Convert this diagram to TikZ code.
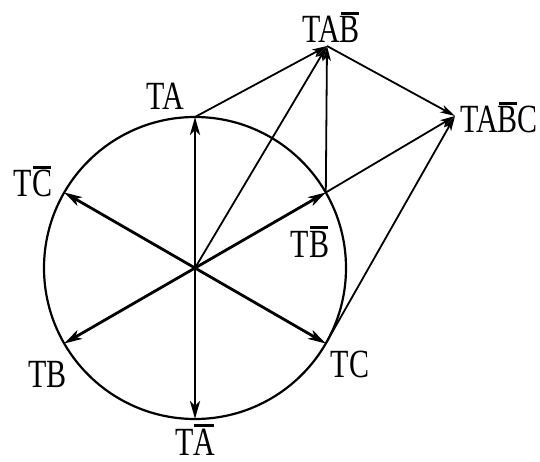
\documentclass[tikz,border=0pt]{standalone}
\usepackage{fontspec}
\setmainfont{Liberation Serif}
\usetikzlibrary{arrows.meta}
\newcommand\ob[1]{\setbox0\hbox{#1}\rlap{\hbox to \wd0{\hss\rule[0.71em]{0.9\wd0}{0.07em}\hss}}\box0}
\newcommand\lbltext[1]{\scalebox{0.75}[1]{#1}}
\begin{document}
\begin{tikzpicture}[x=1pt,y=-1pt,
  lbl/.style={anchor=base,inner sep=0pt,font=\fontsize{40}{40}\selectfont},
  rim/.style={line width=2.2pt},
  vec/.style={line width=2.8pt,-{Stealth[length=18pt,width=10pt,inset=5pt]}},
  thinvec/.style={line width=1.8pt,-{Stealth[length=15pt,width=8pt,inset=4pt]}}]
\useasboundingbox (0,0) rectangle (540,462);
\coordinate (O) at (195,268);
\coordinate (A) at (195,117);
\coordinate (Abar) at (195,419);
\coordinate (Bbar) at (325.8,192.5);
\coordinate (C) at (325.8,343.5);
\coordinate (Cbar) at (64.2,192.5);
\coordinate (B) at (64.2,343.5);
\coordinate (AB) at (327,46);
\coordinate (ABC) at (455,116);
\draw[rim] (O) circle (151);
\foreach \p in {A,Abar,Bbar,C,Cbar,B} \draw[vec] (O) -- (\p);
\draw[thinvec] (A) -- (AB);
\draw[thinvec] (O) -- (AB);
\draw[thinvec] (Bbar) -- (AB);
\draw[thinvec] (AB) -- (ABC);
\draw[thinvec] (Bbar) -- (ABC);
\draw[thinvec] (C) -- (ABC);
\node[lbl] (lA) at (165,110) {\lbltext{TA}};
\node[lbl] (lAB) at (331,43) {\lbltext{TA\ob{B}}};
\node[lbl] (lABC) at (499,133) {\lbltext{TA\ob{B}C}};
\node[lbl] (lBbar) at (310,257) {\lbltext{T\ob{B}}};
\node[lbl] (lCbar) at (33,197) {\lbltext{T\ob{C}}};
\node[lbl] (lB) at (47.5,387) {\lbltext{TB}};
\node[lbl] (lAbar) at (195,455) {\lbltext{T\ob{A}}};
\node[lbl] (lC) at (350,377) {\lbltext{TC}};
\end{tikzpicture}
\end{document}
